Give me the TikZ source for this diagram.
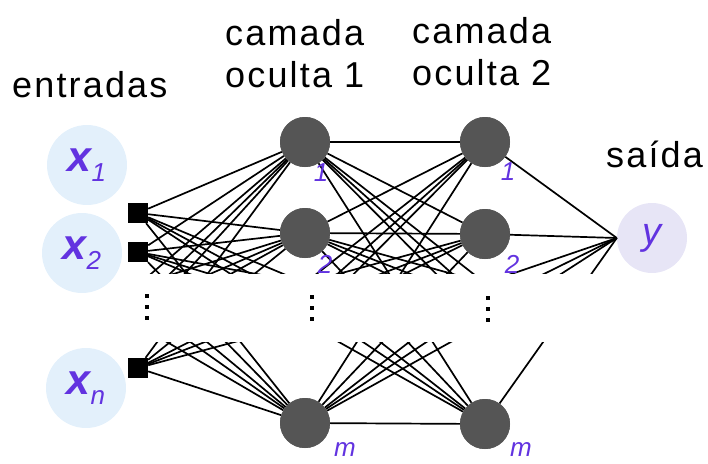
\documentclass[tikz,border=0pt]{standalone}
\usepackage{fontspec}
\setmainfont{Liberation Sans}
\newfontfamily\headfont[LetterSpace=6]{Liberation Sans}
\definecolor{inblue}{HTML}{E3F0FB}
\definecolor{outlav}{HTML}{E7E5F6}
\definecolor{lab}{HTML}{6233E0}
\definecolor{hid}{HTML}{555555}
\newcommand\netedges{%
  \foreach \a in {s1,s2,sn}{\foreach \b in {h11,h12,ha,hb,hc,h1m}{\draw[edge] (\a) -- (\b);}}
  \foreach \a in {sa,sb,sc}{\foreach \b in {h11,h12,h1m}{\draw[edge] (\a) -- (\b);}}
  \foreach \a in {h11,h12,h1m}{\foreach \b in {h21,h22,ga,gb,gc,h2m}{\draw[edge] (\a) -- (\b);}}
  \foreach \a in {ha,hb,hc}{\foreach \b in {h21,h22,h2m}{\draw[edge] (\a) -- (\b);}}
  \foreach \a in {h21,h22,ga,gb,gc,h2m}{\draw[edge] (\a) -- (y.west);}
}
\newcommand\xlab[1]{\textcolor{lab}{\fontsize{43}{43}\selectfont\bfseries\itshape x\raisebox{-10pt}{\mdseries\fontsize{26}{26}\selectfont #1}}}
\begin{document}
\begin{tikzpicture}[x=1pt,y=-1pt,
  inp/.style={circle, fill=inblue, minimum size=80pt, inner sep=0pt},
  hnode/.style={circle, fill=hid, minimum size=50pt, inner sep=0pt},
  sq/.style={rectangle, fill=black, minimum size=20pt, inner sep=0pt},
  outn/.style={circle, fill=outlav, minimum size=70pt, inner sep=0pt},
  head/.style={anchor=base west, inner sep=0pt, font=\headfont\fontsize{36}{40}\selectfont},
  edge/.style={line width=1.7pt, black},
  idx/.style={text=lab, inner sep=0pt, font=\fontsize{26}{26}\selectfont\itshape},
  vdot/.style={rectangle, fill=black, minimum size=4.5pt, inner sep=0pt}]
\useasboundingbox (0,0) rectangle (708,463);

% input circles
\node[inp] (x1) at (87,165) {\xlab{1}};
\node[inp] (x2) at (82,253) {\xlab{2}};
\node[inp] (xn) at (86,388) {\xlab{n}};

% squares, hidden-layer nodes and points inside the elided band
\node[sq] (s1) at (138,213) {};
\node[sq] (s2) at (138,252) {};
\node[sq] (sn) at (138,368) {};
\coordinate (sa) at (138,285);
\coordinate (sb) at (138,305);
\coordinate (sc) at (138,325);
\node[hnode] (h11) at (305,142) {};
\node[hnode] (h12) at (305,233) {};
\node[hnode] (h1m) at (305,423) {};
\coordinate (ha) at (305,283);
\coordinate (hb) at (305,303);
\coordinate (hc) at (305,323);
\node[hnode] (h21) at (485,142) {};
\node[hnode] (h22) at (485,234) {};
\node[hnode] (h2m) at (485,424) {};
\coordinate (ga) at (485,283);
\coordinate (gb) at (485,303);
\coordinate (gc) at (485,323);
\node[outn] (y) at (652,238) {\textcolor{lab}{\fontsize{38}{38}\selectfont\itshape y}};

% edges, with the elided band left blank
\begin{scope}
  \clip (0,0) rectangle (708,273);
  \netedges
\end{scope}
\begin{scope}
  \clip (0,342) rectangle (708,463);
  \netedges
\end{scope}

% redraw nodes on top
\node[sq] at (s1) {};
\node[sq] at (s2) {};
\node[sq] at (sn) {};
\foreach \n in {h11,h12,h1m,h21,h22,h2m}{\node[hnode] at (\n) {};}

% vertical dots
\foreach \xx/\yy in {147/296,312/297,488/298}{
  \node[vdot] (d\xx a) at (\xx,\yy) {};
  \node[vdot] (d\xx b) at (\xx,\yy+11) {};
  \node[vdot] (d\xx c) at (\xx,\yy+22) {};
}

% index labels
\node[idx] (i11) at (321,173) {1};
\node[idx] (i12) at (325,264) {2};
\node[idx] (i1m) at (345,450) {m};
\node[idx] (i21) at (508,172) {1};
\node[idx] (i22) at (512,264) {2};
\node[idx] (i2m) at (521,450) {m};

% headings
\node[head] (tin) at (12,97) {entradas};
\node[head] (tc1a) at (225,45) {camada};
\node[head] (tc1b) at (225,87) {oculta 1};
\node[head] (tc2a) at (412,43) {camada};
\node[head] (tc2b) at (412,85) {oculta 2};
\node[head] (tout) at (606,167) {saída};
\end{tikzpicture}
\end{document}
